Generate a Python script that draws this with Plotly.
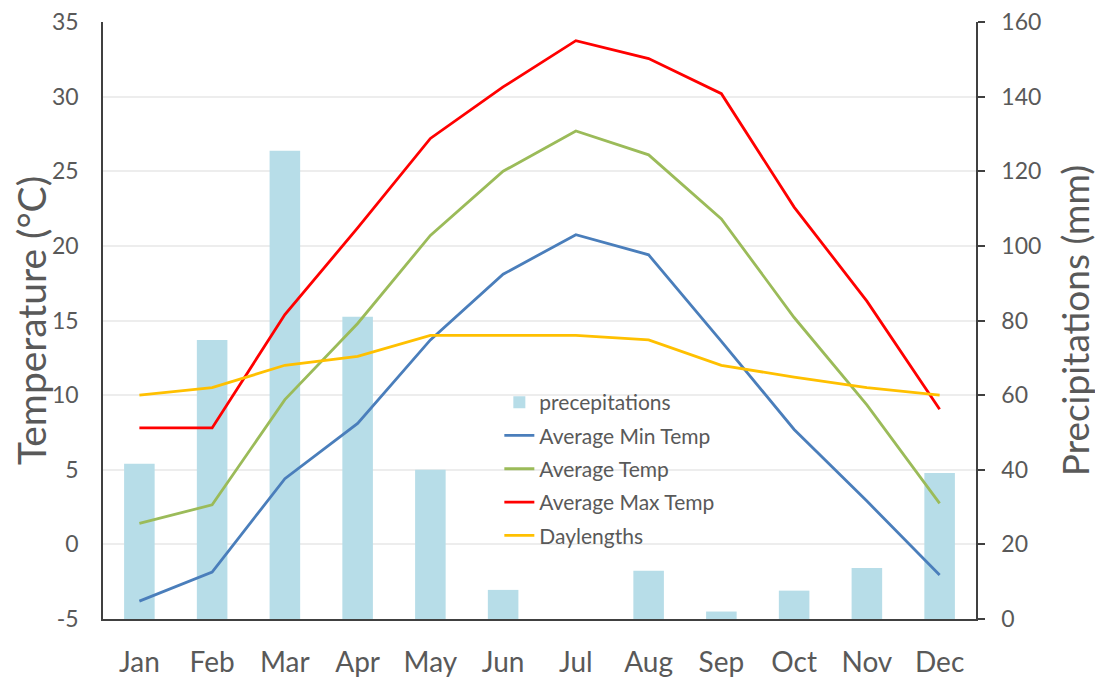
import plotly.graph_objects as go

months = ["Jan", "Feb", "Mar", "Apr", "May", "Jun", "Jul", "Aug", "Sep", "Oct", "Nov", "Dec"]
precipitation = [41.6, 74.8, 125.5, 81.0, 40.0, 7.8, 0.0, 12.9, 2.0, 7.6, 13.7, 39.1]
min_temp = [-3.8, -1.85, 4.4, 8.1, 13.7, 18.1, 20.75, 19.4, 13.6, 7.7, 2.9, -2.05]
avg_temp = [1.4, 2.65, 9.7, 14.8, 20.7, 25.0, 27.7, 26.1, 21.8, 15.2, 9.35, 2.75]
max_temp = [7.8, 7.8, 15.4, 21.2, 27.2, 30.65, 33.75, 32.55, 30.2, 22.6, 16.3, 9.05]
daylength = [10.0, 10.5, 12.0, 12.6, 14.0, 14.0, 14.0, 13.7, 12.0, 11.2, 10.5, 10.0]
temp_ticks = [-5, 0, 5, 10, 15, 20, 25, 30, 35]
temp_labels = ["-5", "0", "5", "10", "15", "20", "25", "30", "35"]

FONT = "Lato, 'Open Sans', sans-serif"
GREY = "#595959"

fig = go.Figure()
fig.add_trace(go.Bar(x=months, y=precipitation, name="precepitations",
                     marker=dict(color="#b7dde8", line=dict(width=0)),
                     yaxis="y", legendgroup="a"))
series = [
    ("Average Min Temp", min_temp, "#4a7ebb"),
    ("Average Temp", avg_temp, "#9bbb59"),
    ("Average Max Temp", max_temp, "#ff0000"),
    ("Daylengths", daylength, "#ffc000"),
]
for i, (name, vals, col) in enumerate(series):
    fig.add_trace(go.Scatter(x=months, y=vals, name=name, mode="lines",
                             line=dict(color=col, width=2.8),
                             yaxis="y2", legendgroup="g%d" % i))

# page body has an 8px margin, so the figure is shrunk and shifted accordingly
fig.update_layout(
    width=1095, height=669,
    margin=dict(l=95, r=127, t=14, b=58),
    paper_bgcolor="white", plot_bgcolor="white",
    font=dict(family=FONT, color=GREY),
    bargap=0.58,
    showlegend=True,
    legend=dict(x=0.454, y=0.397, xanchor="left", yanchor="top",
                bgcolor="rgba(0,0,0,0)", font=dict(size=21, color=GREY),
                traceorder="grouped", tracegroupgap=3, itemwidth=30),
    xaxis=dict(type="category", range=[-0.5, 11.5], showgrid=False,
               showline=True, linecolor="#404040", linewidth=1.5,
               ticks="", tickfont=dict(size=28, color=GREY),
               ticklabelstandoff=18, automargin=False),
    yaxis=dict(side="right", range=[0, 160], dtick=20, showgrid=False,
               showline=True, linecolor="#404040", linewidth=1.5,
               ticks="outside", ticklen=7, tickcolor="#404040", tickwidth=1.5,
               tickfont=dict(size=23, color=GREY), ticklabelstandoff=12,
               ticklabeloverflow="allow",
               title=dict(text="Precipitations (mm)", font=dict(size=37, color=GREY), standoff=23),
               zeroline=False, automargin=False),
    yaxis2=dict(side="left", overlaying="y", range=[-5, 35],
                tickmode="array", tickvals=temp_ticks, ticktext=temp_labels,
                showgrid=True, gridcolor="#ededed", gridwidth=1.5,
                showline=True, linecolor="#404040", linewidth=1.5,
                ticks="", tickfont=dict(size=23, color=GREY), ticklabelstandoff=18,
                ticklabeloverflow="allow",
                title=dict(text="Temperature (°C)", font=dict(size=39, color=GREY), standoff=16),
                zeroline=False, automargin=False),
)

fig.write_html("out.html")
